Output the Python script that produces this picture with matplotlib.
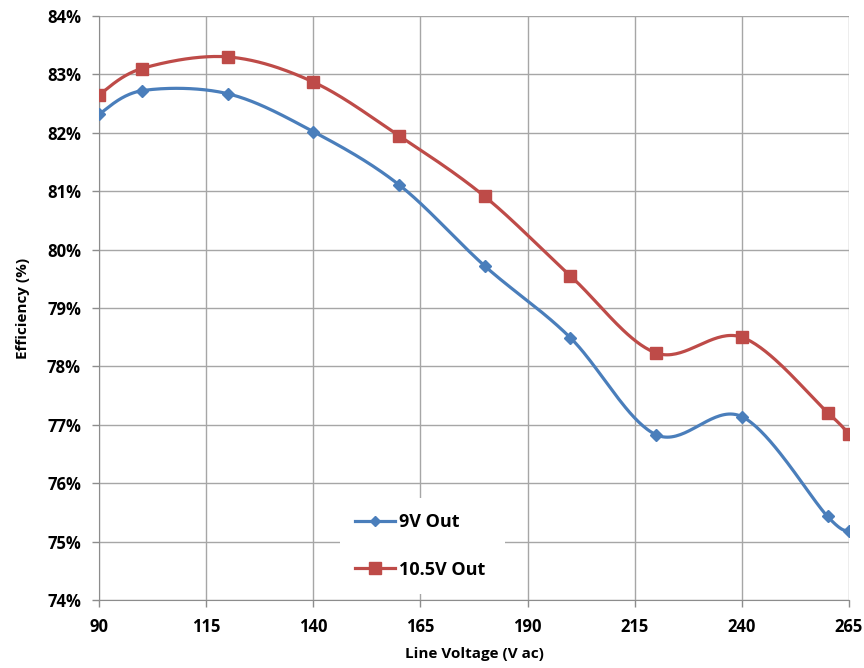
import numpy as np
import matplotlib
matplotlib.use("Agg")
import matplotlib.pyplot as plt
from matplotlib.ticker import FuncFormatter

# line voltage (V ac) and measured efficiency (%)
volts = [90, 100, 120, 140, 160, 180, 200, 220, 240, 260, 265]
eff_9v = [82.32, 82.72, 82.67, 82.02, 81.11, 79.72, 78.49, 76.83, 77.14, 75.43, 75.18]
eff_10v5 = [82.65, 83.10, 83.30, 82.87, 81.95, 80.91, 79.55, 78.23, 78.50, 77.21, 76.84]
x_ticks = [90, 115, 140, 165, 190, 215, 240, 265]
y_ticks = [74, 75, 76, 77, 78, 79, 80, 81, 82, 83, 84]


def smooth(x, y, n=40):
    # excel-like smoothed line: cubic bezier, control points from neighbours
    x = np.asarray(x, float)
    y = np.asarray(y, float)
    px = np.concatenate([[x[0]], x, [x[-1]]])
    py = np.concatenate([[y[0]], y, [y[-1]]])
    t = np.linspace(0, 1, n)[:, None]
    xs, ys = [], []
    for i in range(len(x) - 1):
        p0 = np.array([x[i], y[i]])
        p3 = np.array([x[i + 1], y[i + 1]])
        p1 = p0 + (np.array([px[i + 2], py[i + 2]]) - np.array([px[i], py[i]])) / 6
        p2 = p3 - (np.array([px[i + 3], py[i + 3]]) - np.array([px[i + 1], py[i + 1]])) / 6
        b = ((1 - t) ** 3) * p0 + 3 * ((1 - t) ** 2) * t * p1 + 3 * (1 - t) * t ** 2 * p2 + t ** 3 * p3
        xs.append(b[:, 0])
        ys.append(b[:, 1])
    return np.concatenate(xs), np.concatenate(ys)


plt.rcParams['font.family'] = ['Open Sans', 'DejaVu Sans']

blue = '#4A7EBB'
red = '#BE4B48'

fig = plt.figure(figsize=(8.64, 6.68), dpi=100)
ax = fig.add_axes([99 / 864, 1 - 600 / 668, 750 / 864, 584 / 668])

sx, sy = smooth(volts, eff_9v)
ax.plot(sx, sy, color=blue, lw=2.3, zorder=3)
ax.plot(volts, eff_9v, ls='none', marker='D', ms=6.5, color=blue, zorder=4)
sx, sy = smooth(volts, eff_10v5)
ax.plot(sx, sy, color=red, lw=2.3, zorder=3)
ax.plot(volts, eff_10v5, ls='none', marker='s', ms=8.5, color=red, zorder=4)

ax.set_xlim(90, 265)
ax.set_ylim(74, 84)
ax.set_xticks(x_ticks)
ax.set_yticks(y_ticks)
ax.yaxis.set_major_formatter(FuncFormatter(lambda v, p: '%d%%' % v))
ax.grid(True, color='#a6a6a6', lw=1)
ax.set_axisbelow(True)
for s in ax.spines.values():
    s.set_visible(False)
ax.spines['left'].set_visible(True)
ax.spines['bottom'].set_visible(True)
ax.spines['left'].set_color('#8c8c8c')
ax.spines['bottom'].set_color('#8c8c8c')
ax.tick_params(length=5, width=1, color='#8c8c8c', labelsize=12, pad=8)
for lab in ax.get_xticklabels() + ax.get_yticklabels():
    lab.set_fontweight('bold')

ax.set_xlabel('Line Voltage (V ac)', fontsize=11, fontweight='bold', labelpad=8)
ax.set_ylabel('Efficiency (%)', fontsize=11, fontweight='bold', labelpad=12)

h1, = ax.plot([], [], color=blue, lw=2.3, marker='D', ms=5)
h2, = ax.plot([], [], color=red, lw=2.3, marker='s', ms=8)
leg = ax.legend([h1, h2], ['9V Out', '10.5V Out'], loc='lower left',
                bbox_to_anchor=((340 - 99) / 750, (600 - 594) / 584, 165 / 750, 100 / 584),
                mode='expand', frameon=True, fancybox=False, edgecolor='none',
                facecolor='white', framealpha=1, handlelength=2.2, handletextpad=0.2,
                labelspacing=1.65, borderaxespad=0, borderpad=0.85,
                prop={'size': 13, 'weight': 'bold'})
leg.set_zorder(5)

fig.savefig('out.png', dpi=100)
